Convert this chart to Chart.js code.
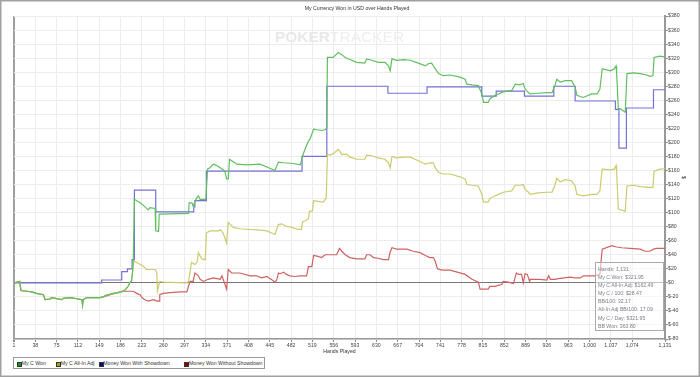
<!DOCTYPE html>
<html>
<head>
<meta charset="utf-8">
<script src="https://cdn.jsdelivr.net/npm/chart.js@4.4.1/dist/chart.umd.min.js"></script>
<style>
  html, body { margin: 0; padding: 0; background: #fff; }
  #wrap { position: relative; width: 700px; height: 377px; font-family: "Liberation Sans", Arial, sans-serif; }
  #c { position: absolute; left: 0; top: 0; }
  .legend { position: absolute; left: 13px; top: 357px; width: 252px; height: 12px; border: 1px solid #999; box-sizing: border-box; background: #fff; }
  .sq { position: absolute; top: 361.5px; width: 3px; height: 3px; border: 0.6px solid #333; }
  .lt { position: absolute; top: 360px; font-size: 5.2px; line-height: 7px; color: #333; white-space: nowrap; }
  .tip { position: absolute; left: 595px; top: 262px; width: 69px; height: 69px; border: 1px solid #aaa; box-sizing: border-box;
         background: rgba(255,255,255,0.55); padding: 2px 0 0 2px; font-size: 5.2px; line-height: 8.1px; color: #7c7c88; white-space: nowrap; }
</style>
</head>
<body>
<div id="wrap">
  <canvas id="c" width="700" height="377"></canvas>
  <div class="legend"></div>
  <div id="legendItems"></div>
  <div class="tip" id="tip"></div>
</div>
<script>
// ---------------- data ----------------
const chartTitle = "My Currency Won in USD over Hands Played";
const xAxisTitle = "Hands Played";
const yAxisTitle = "$";
const xTickValues = [1,38,75,112,149,186,223,260,297,334,371,408,445,482,519,556,593,630,667,704,741,778,815,852,889,926,963,1000,1037,1074,1131];
const seriesNames = ["My C Won", "My C All-In Adj", "Money Won With Showdown", "Money Won Without Showdown"];

const greenHands = [1,11,13,23,32,40,52,55,64,66,84,87,98,113,119,120,121,127,150,156,159,173,182,188,194,199,202,205,207,208,210,214,220,226,231,234,237,246,247,252,253,304,305,310,312,318,321,324,334,337,341,347,353,362,367,370,373,375,379,388,405,428,440,454,460,469,486,498,502,506,512,515,521,527,535,541,544,545,555,564,570,576,584,596,610,613,622,633,645,651,654,657,665,677,689,703,715,720,726,732,738,746,758,775,784,787,796,807,813,816,824,827,836,842,850,865,871,879,885,888,894,897,911,926,935,940,943,949,958,969,975,978,989,1004,1013,1018,1022,1036,1043,1046,1047,1050,1053,1062,1065,1076,1088,1099,1105,1110,1112,1122,1131];
const greenVals = [0,2,-11,-12,-13,-15,-17,-24,-23,-21,-24,-22,-21,-23,-24,-31,-24,-21,-21,-20,-18,-15,-14,-13,-10,-5,0,3,17,33,119,117,114,110,106,104,107,106,74,73,98,99,114,114,109,121,124,119,119,162,164,169,167,162,159,148,148,176,174,169,168,169,165,160,172,171,170,168,181,190,202,205,219,218,217,218,221,321,321,328,325,321,318,314,313,319,317,314,314,309,302,319,317,318,317,313,309,312,313,305,298,295,296,293,290,283,282,281,269,257,257,262,267,269,272,274,283,282,284,276,271,269,270,271,271,281,290,286,288,288,279,267,264,269,269,276,305,302,305,309,300,248,248,243,298,299,298,296,294,295,321,323,321.95];

const yellowHands = [1,11,13,23,32,40,52,55,64,66,84,87,98,113,119,120,121,127,150,156,159,173,182,188,194,199,202,205,207,209,214,225,231,246,249,250,254,260,301,304,309,315,319,321,327,333,335,341,356,359,364,370,373,382,393,411,428,440,451,454,460,466,472,483,494,500,502,506,512,514,519,521,529,538,543,544,545,550,555,564,570,579,584,596,610,613,622,633,645,651,654,657,665,677,689,703,715,723,729,732,738,746,758,775,784,787,796,807,813,816,824,827,836,842,850,865,871,879,885,888,894,897,911,926,935,940,943,949,958,969,975,978,989,1004,1013,1018,1022,1036,1043,1046,1047,1050,1062,1065,1076,1088,1105,1110,1112,1122,1131];
const yellowVals = [0,2,-11,-12,-13,-15,-17,-24,-23,-21,-24,-22,-21,-23,-24,-31,-24,-21,-21,-20,-18,-15,-14,-13,-10,-5,0,3,17,31,29,24,19,19,14,-12,2,1,0,2,29,26,30,43,34,33,71,74,74,76,71,57,86,79,77,76,75,74,70,69,83,84,81,79,76,76,87,88,91,102,102,117,116,115,121,121,183,182,184,190,183,183,179,176,176,182,181,178,176,171,164,180,178,179,179,174,169,171,171,164,157,155,155,151,148,140,139,138,126,115,115,120,124,126,129,131,139,139,140,133,129,126,128,129,129,139,149,144,147,145,138,126,124,126,126,131,162,161,162,167,159,105,102,138,139,137,136,136,159,162,162.49];

const blueHands = [1,153,188,198,206,210,247,313,315,335,501,544,650,718,813,838,887,938,975,1045,1051,1064,1111,1131];
const blueVals = [0,4,16,20,33,132,101,108,117,159,180,280,270,279,266,273,266,280,259,247,192,249,275,275];

const redHands = [1,11,13,23,32,40,52,55,64,66,84,87,98,113,119,120,121,127,150,156,168,176,188,208,214,220,223,228,234,243,249,253,254,260,272,289,301,305,307,312,315,321,324,330,338,347,359,362,370,373,379,393,411,422,431,440,445,451,454,457,460,463,469,474,480,489,498,509,512,518,521,527,535,541,561,566,570,576,584,596,610,613,619,625,633,642,651,654,657,665,683,694,706,715,723,729,732,736,744,758,784,796,807,810,824,827,836,848,850,859,868,873,877,882,885,888,892,896,897,914,926,929,932,940,946,966,975,984,989,1001,1010,1018,1022,1039,1047,1056,1070,1088,1096,1105,1111,1117,1131];
const redVals = [0,2,-11,-12,-13,-15,-17,-24,-23,-21,-24,-22,-21,-23,-24,-31,-24,-21,-21,-20,-17,-15,-12,-12,-15,-17,-21,-24,-26,-24,-26,-26,-17,-15,-14,-13,-13,-2,2,2,14,10,5,2,5,7,5,10,-9,19,14,14,10,10,7,9,6,3,1,4,14,13,15,12,10,9,10,10,23,23,39,38,36,40,40,49,45,40,36,34,34,40,40,36,35,33,33,44,50,48,48,45,43,39,36,36,31,20,18,18,12,5,1,-9,-9,-5,-5,-2,2,1,-1,14,12,12,0,13,12,2,5,5,4,10,5,5,6,8,7,7,10,10,10,12,48,53,51,50,49,48,45,45,48,49,49];

const tooltipLines = ["Hands: 1,131","My C Won: $321.95","My C All-In Adj: $162.49","My C / 100: $28.47","BB/100: 32.17","All-In Adj BB/100: 17.09","My C / Day: $321.95","BB Won: 363.80"];

// ---------------- styles ----------------
const FONT = '"Liberation Sans", Arial, sans-serif';
const lineColors = ['#5fbf5f', '#cbcb6e', '#7272d8', '#cf6262'];
const legendColors = ['#119911', '#a3a300', '#000099', '#990000'];
const legendSquareX = [17, 56, 98.5, 184.3];
const legendTextX = [21.7, 60.7, 103.3, 189];

function pts(h, v) { return h.map((x, i) => ({ x: x, y: v[i] })); }

const datasets = [
  { label: seriesNames[0], data: pts(greenHands, greenVals), borderColor: lineColors[0] },
  { label: seriesNames[1], data: pts(yellowHands, yellowVals), borderColor: lineColors[1] },
  { label: seriesNames[2], data: pts(blueHands, blueVals), borderColor: lineColors[2], stepped: 'before' },
  { label: seriesNames[3], data: pts(redHands, redVals), borderColor: lineColors[3] }
].map(d => Object.assign({ borderWidth: 1.2, pointRadius: 0, fill: false, tension: 0 }, d));

const framePlugin = {
  id: 'frame',
  beforeDraw(chart) {
    const c = chart.ctx;
    c.save(); c.fillStyle = '#fff'; c.fillRect(0, 0, chart.width, chart.height); c.restore();
  },
  beforeDatasetsDraw(chart) {
    const c = chart.ctx;
    const a = chart.chartArea;
    c.save();
    c.textBaseline = 'middle';
    c.font = 'bold 15.5px ' + FONT;
    const w1 = c.measureText('POKER').width;
    c.font = '15.5px ' + FONT;
    const w2 = c.measureText('TRACKER').width;
    const cx = (a.left + a.right) / 2;
    const x0 = cx - (w1 + w2) / 2;
    c.fillStyle = '#e8e8e8';
    c.font = 'bold 15.5px ' + FONT;
    c.fillText('POKER', x0, 38);
    c.fillStyle = '#eeeeee';
    c.font = '15.5px ' + FONT;
    c.fillText('TRACKER', x0 + w1, 38);
    c.restore();
  },
  afterDraw(chart) {
    const c = chart.ctx;
    c.save();
    c.strokeStyle = '#a0a0a0';
    c.lineWidth = 1.5;
    c.strokeRect(0.75, 0.75, chart.width - 1.5, chart.height - 1.5);
    c.restore();
  }
};

new Chart(document.getElementById('c'), {
  type: 'line',
  data: { datasets: datasets },
  plugins: [framePlugin],
  options: {
    responsive: false,
    animation: false,
    events: [],
    layout: { padding: { left: 14, right: 0, top: 0, bottom: 22 } },
    plugins: {
      legend: { display: false },
      tooltip: { enabled: false },
      title: { display: true, text: chartTitle, color: '#333', font: { size: 5.2, family: FONT, weight: 'normal' }, padding: { top: 5, bottom: 4.8 } }
    },
    scales: {
      x: {
        type: 'linear', min: 1, max: 1131,
        afterBuildTicks(s) { s.ticks = xTickValues.map(v => ({ value: v })); },
        afterFit(s) { s.height = 16; },
        ticks: { autoSkip: false, maxRotation: 0, padding: 0, color: '#444', font: { size: 5.2, family: FONT },
                 callback: v => Number(v).toLocaleString('en-US') },
        grid: {
          color: c => (c.tick && c.tick.value === 1) ? '#a0a0a0' : '#ececec',
          lineWidth: c => (c.tick && c.tick.value === 1) ? 2 : 1,
          tickColor: '#888', tickLength: 3
        },
        border: { color: '#999', width: 1.5 },
        title: { display: true, text: xAxisTitle, color: '#333', font: { size: 5.2, family: FONT }, padding: { top: 0, bottom: 0.7 } }
      },
      y: {
        position: 'right', min: -80, max: 380,
        afterFit(s) { s.width = 35; },
        ticks: { stepSize: 20, padding: 0, color: '#444', font: { size: 5.2, family: FONT },
                 callback: v => v < 0 ? '$-' + (-v) : '$' + v },
        grid: {
          color: c => (c.tick && c.tick.value === 0) ? '#777' : '#ececec',
          tickColor: '#888', tickLength: 3
        },
        border: { color: '#999', width: 2 },
        title: { display: true, text: yAxisTitle, color: '#333', font: { size: 5.2, family: FONT }, padding: { top: 13.4, bottom: 0 } }
      }
    }
  }
});

// HTML legend and info box
const li = document.getElementById('legendItems');
seriesNames.forEach((name, i) => {
  const sq = document.createElement('div');
  sq.className = 'sq';
  sq.style.left = legendSquareX[i] + 'px';
  sq.style.background = legendColors[i];
  li.appendChild(sq);
  const t = document.createElement('div');
  t.className = 'lt';
  t.style.left = legendTextX[i] + 'px';
  t.textContent = name;
  li.appendChild(t);
});
document.getElementById('tip').innerHTML = tooltipLines.map(s => '<div>' + s + '</div>').join('');
</script>
</body>
</html>
